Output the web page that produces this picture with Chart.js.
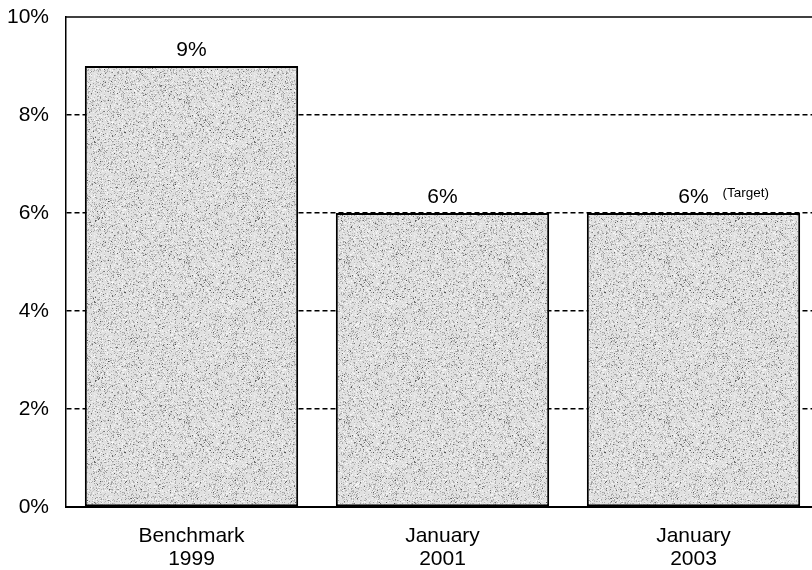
<!DOCTYPE html>
<html>
<head>
<meta charset="utf-8">
<script src="https://cdn.jsdelivr.net/npm/chart.js@4"></script>
<style>
  html, body { margin: 0; padding: 0; background: #fff; overflow: hidden; width: 812px; height: 570px; }
  canvas { display: block; }
</style>
</head>
<body>
<canvas id="rateChart" width="830" height="570"></canvas>
<script>
// bar data
const categories = [['Benchmark', '1999'], ['January', '2001'], ['January', '2003']];
const rates = [9, 6, 6];
const notes = ['', '', '(Target)'];
const yTicks = [0, 2, 4, 6, 8, 10];

const FONT = '"Liberation Sans", Arial, sans-serif';

// speckled gray fill for the bars
function makeGrain() {
    const c = document.createElement('canvas');
    c.width = 160;
    c.height = 160;
    const g = c.getContext('2d');
    g.fillStyle = '#e0e0e0';
    g.fillRect(0, 0, c.width, c.height);
    let s = 12345;
    function rnd() {
        s = (s * 1664525 + 1013904223) >>> 0;
        return s / 4294967296;
    }
    for (let i = 0; i < 11000; i++) {
        const x = Math.floor(rnd() * c.width);
        const y = Math.floor(rnd() * c.height);
        const r = rnd();
        let v;
        if (r < 0.06) v = 80 + Math.floor(rnd() * 60);
        else if (r < 0.6) v = 155 + Math.floor(rnd() * 45);
        else v = 232 + Math.floor(rnd() * 20);
        g.fillStyle = 'rgb(' + v + ',' + v + ',' + v + ')';
        g.fillRect(x, y, 1, 1);
    }
    return c;
}

document.addEventListener('DOMContentLoaded', function() {
    const ctx = document.getElementById('rateChart').getContext('2d');
    const grain = ctx.createPattern(makeGrain(), 'repeat');

    // top frame line at the max value
    const frameLine = {
        id: 'frameLine',
        afterDraw(chart) {
            const a = chart.chartArea;
            const y = chart.scales.y.getPixelForValue(10);
            const c = chart.ctx;
            c.save();
            c.strokeStyle = '#000';
            c.lineWidth = 1.5;
            c.beginPath();
            c.moveTo(a.left, y);
            c.lineTo(a.right, y);
            c.stroke();
            c.restore();
        }
    };

    // value labels above each bar
    const valueLabels = {
        id: 'valueLabels',
        afterDatasetsDraw(chart) {
            const c = chart.ctx;
            const meta = chart.getDatasetMeta(0);
            c.save();
            c.fillStyle = '#000';
            c.textBaseline = 'alphabetic';
            meta.data.forEach(function(bar, i) {
                c.font = '21px ' + FONT;
                c.textAlign = 'center';
                c.fillText(rates[i] + '%', bar.x, bar.y - 10);
                if (notes[i]) {
                    c.font = '13.5px ' + FONT;
                    c.textAlign = 'left';
                    c.fillText(notes[i], bar.x + 29, bar.y - 16);
                }
            });
            c.restore();
        }
    };

    new Chart(ctx, {
        type: 'bar',
        data: {
            labels: categories,
            datasets: [{
                data: rates,
                backgroundColor: grain,
                borderColor: '#000',
                borderWidth: 2,
                borderSkipped: false,
                categoryPercentage: 1,
                barPercentage: 0.85
            }]
        },
        options: {
            responsive: false,
            animation: false,
            events: [],
            layout: { padding: { top: 17, right: 11, left: 0, bottom: 0 } },
            plugins: {
                legend: { display: false },
                tooltip: { enabled: false }
            },
            scales: {
                x: {
                    afterFit: function(s) {
                        s.height = 63;
                        s.paddingLeft = 0;
                        s.paddingRight = 0;
                    },
                    grid: { display: false, drawTicks: false },
                    border: { display: true, color: '#000', width: 2 },
                    ticks: {
                        color: '#000',
                        padding: 18,
                        font: { family: FONT, size: 21, lineHeight: 1.1 }
                    }
                },
                y: {
                    min: 0,
                    max: 10,
                    afterFit: function(s) {
                        s.width = 66;
                        s.paddingTop = 0;
                        s.paddingBottom = 0;
                    },
                    afterBuildTicks: function(s) {
                        s.ticks = yTicks.map(function(v) { return { value: v }; });
                    },
                    grid: {
                        drawTicks: false,
                        color: function(c) {
                            const v = c.tick ? c.tick.value : 0;
                            return (v === 0 || v === 10) ? 'rgba(0,0,0,0)' : '#000';
                        },
                        lineWidth: 1.5
                    },
                    border: { display: true, color: '#000', width: 1.5, dash: [5, 3] },
                    ticks: {
                        color: '#000',
                        padding: 17,
                        font: { family: FONT, size: 21 },
                        callback: function(v) { return v + '%'; }
                    }
                }
            }
        },
        plugins: [frameLine, valueLabels]
    });
});
</script>
</body>
</html>
